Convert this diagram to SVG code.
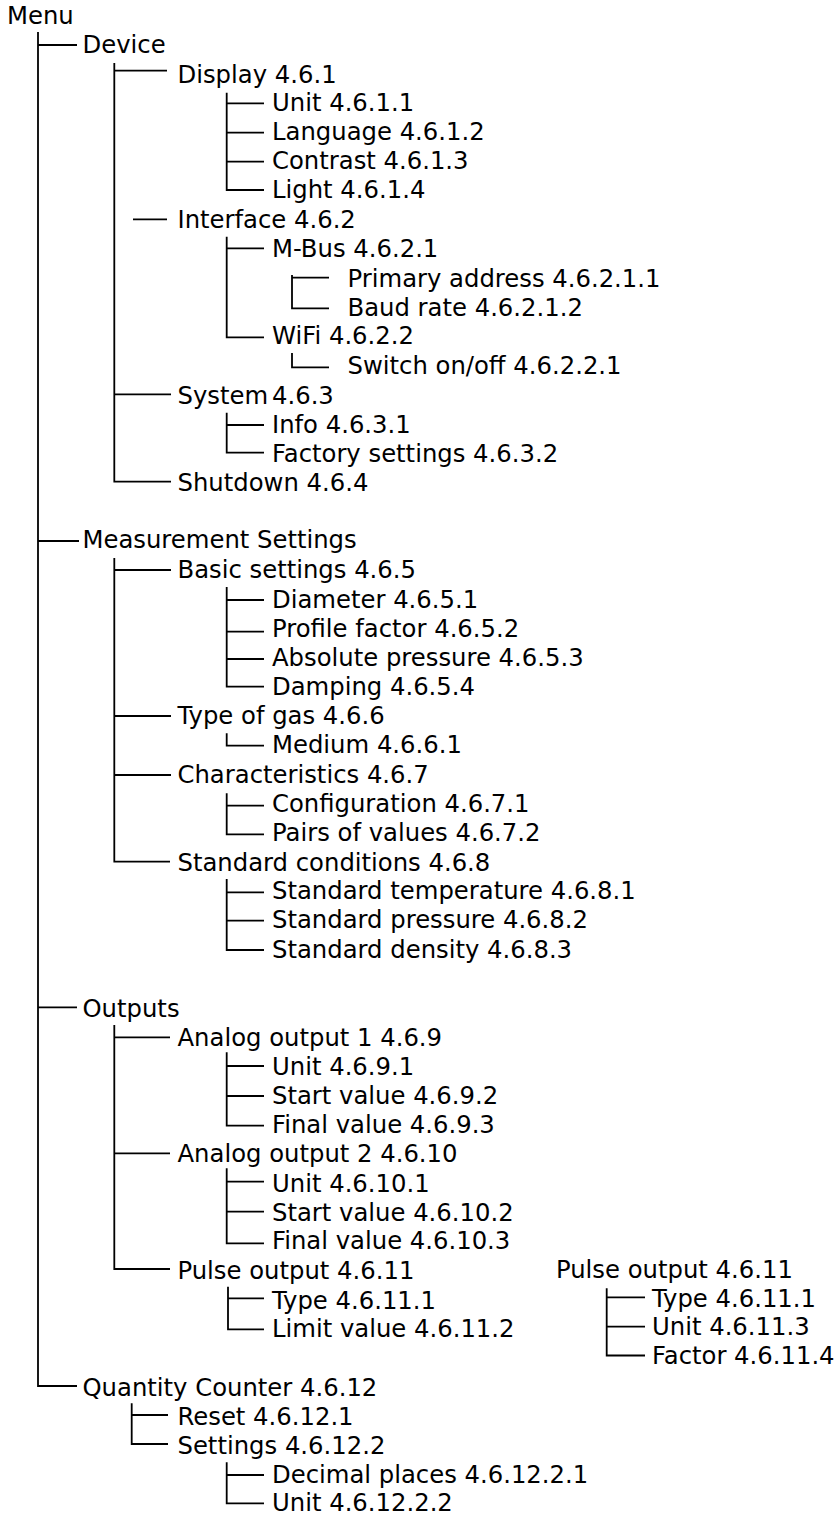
<svg xmlns="http://www.w3.org/2000/svg" width="838" height="1515" viewBox="0 0 838 1515">
<style>
text{font-family:Verdana,"DejaVu Sans",sans-serif;font-size:24.3px;fill:#000}
.c path,.c line{stroke:#000;stroke-width:1.8;fill:none}
</style>
<rect width="838" height="1515" fill="#fff"/>
<g class="c" id="connectors">
<path d="M38 32V1386H77"/>
<line x1="38" y1="45" x2="77" y2="45"/>
<line x1="38" y1="541" x2="79" y2="541"/>
<line x1="38" y1="1007.3" x2="77" y2="1007.3"/>
<path d="M114.3 63V481.7H171"/>
<line x1="114.3" y1="70.7" x2="167" y2="70.7"/>
<line x1="133" y1="219.3" x2="167" y2="219.3"/>
<line x1="114.3" y1="394.3" x2="171" y2="394.3"/>
<path d="M226.7 92.7V190H264"/>
<line x1="226.7" y1="103.3" x2="264" y2="103.3"/>
<line x1="226.7" y1="132.7" x2="264" y2="132.7"/>
<line x1="226.7" y1="161.7" x2="264" y2="161.7"/>
<path d="M226.7 236.7V337.3H264"/>
<line x1="226.7" y1="248.3" x2="264" y2="248.3"/>
<path d="M292 275V308.3H329"/>
<line x1="292" y1="277.7" x2="329" y2="277.7"/>
<path d="M292 353V367.3H329"/>
<path d="M226.7 412.7V452.7H264"/>
<line x1="226.7" y1="425" x2="264" y2="425"/>
<path d="M114.3 558V861.7H170"/>
<line x1="114.3" y1="570" x2="171" y2="570"/>
<line x1="114.3" y1="716" x2="171" y2="716"/>
<line x1="114.3" y1="775" x2="171" y2="775"/>
<path d="M226.7 587V686.7H264"/>
<line x1="226.7" y1="600" x2="264" y2="600"/>
<line x1="226.7" y1="631.7" x2="264" y2="631.7"/>
<line x1="226.7" y1="659" x2="264" y2="659"/>
<path d="M226.7 733.3V745.7H264"/>
<path d="M226.7 793.3V834.3H264"/>
<line x1="226.7" y1="805.7" x2="264" y2="805.7"/>
<path d="M226.7 879V950H264"/>
<line x1="226.7" y1="892.3" x2="264" y2="892.3"/>
<line x1="226.7" y1="920.7" x2="264" y2="920.7"/>
<path d="M114.3 1025V1269H170"/>
<line x1="114.3" y1="1037.3" x2="170" y2="1037.3"/>
<line x1="114.3" y1="1153.3" x2="170" y2="1153.3"/>
<path d="M226.7 1052.3V1125.7H264"/>
<line x1="226.7" y1="1066" x2="264" y2="1066"/>
<line x1="226.7" y1="1096" x2="264" y2="1096"/>
<path d="M226.7 1168.3V1243.3H264"/>
<line x1="226.7" y1="1181.7" x2="264" y2="1181.7"/>
<line x1="226.7" y1="1211.7" x2="264" y2="1211.7"/>
<path d="M228 1286.7V1329.3H264"/>
<line x1="228" y1="1298.3" x2="264" y2="1298.3"/>
<path d="M131.7 1403.3V1444H168"/>
<line x1="131.7" y1="1415" x2="168" y2="1415"/>
<path d="M226.7 1462.3V1503.3H264"/>
<line x1="226.7" y1="1475" x2="264" y2="1475"/>
<path d="M606.7 1288.3V1355.5H645"/>
<line x1="606.7" y1="1297.3" x2="645" y2="1297.3"/>
<line x1="606.7" y1="1326.7" x2="645" y2="1326.7"/>
</g>
<g id="n-menu"><text x="7" y="24">Menu</text></g>
<g id="n-device"><text x="82.5" y="53.3">Device</text></g>
<g id="n-display"><text x="177.5" y="82.7">Display 4.6.1</text></g>
<g id="n-unit-1"><text x="272" y="111">Unit 4.6.1.1</text></g>
<g id="n-language"><text x="272" y="140">Language 4.6.1.2</text></g>
<g id="n-contrast"><text x="272" y="169.3">Contrast 4.6.1.3</text></g>
<g id="n-light"><text x="272" y="197.7">Light 4.6.1.4</text></g>
<g id="n-interface"><text x="177.5" y="228.3">Interface 4.6.2</text></g>
<g id="n-mbus"><text x="272" y="256.7">M-Bus 4.6.2.1</text></g>
<g id="n-primary"><text x="347.5" y="286.7">Primary address 4.6.2.1.1</text></g>
<g id="n-baud"><text x="347.5" y="316">Baud rate 4.6.2.1.2</text></g>
<g id="n-wifi"><text x="272" y="344.3">WiFi 4.6.2.2</text></g>
<g id="n-switch"><text x="347.5" y="374.3">Switch on/off 4.6.2.2.1</text></g>
<g id="n-system"><text x="177.5" y="404">System<tspan x="272">4.6.3</tspan></text></g>
<g id="n-info"><text x="272" y="432.7">Info 4.6.3.1</text></g>
<g id="n-factory"><text x="272" y="461.7">Factory settings 4.6.3.2</text></g>
<g id="n-shutdown"><text x="177.5" y="490.7">Shutdown 4.6.4</text></g>
<g id="n-measurement"><text x="82.5" y="548.3">Measurement Settings</text></g>
<g id="n-basic"><text x="177.5" y="578.3">Basic settings 4.6.5</text></g>
<g id="n-diameter"><text x="272" y="608.3">Diameter 4.6.5.1</text></g>
<g id="n-profile"><text x="272" y="637.3">Profile factor 4.6.5.2</text></g>
<g id="n-absolute"><text x="272" y="666">Absolute pressure 4.6.5.3</text></g>
<g id="n-damping"><text x="272" y="695">Damping 4.6.5.4</text></g>
<g id="n-gas"><text x="177.5" y="724">Type of gas 4.6.6</text></g>
<g id="n-medium"><text x="272" y="753.3">Medium 4.6.6.1</text></g>
<g id="n-char"><text x="177.5" y="782.7">Characteristics 4.6.7</text></g>
<g id="n-config"><text x="272" y="811.7">Configuration 4.6.7.1</text></g>
<g id="n-pairs"><text x="272" y="840.7">Pairs of values 4.6.7.2</text></g>
<g id="n-stdcond"><text x="177.5" y="870.7">Standard conditions 4.6.8</text></g>
<g id="n-stdtemp"><text x="272" y="899.3">Standard temperature 4.6.8.1</text></g>
<g id="n-stdpress"><text x="272" y="928.3">Standard pressure 4.6.8.2</text></g>
<g id="n-stddens"><text x="272" y="957.7">Standard density 4.6.8.3</text></g>
<g id="n-outputs"><text x="82.5" y="1016.7">Outputs</text></g>
<g id="n-ao1"><text x="177.5" y="1046">Analog output 1 4.6.9</text></g>
<g id="n-ao1-unit"><text x="272" y="1075">Unit 4.6.9.1</text></g>
<g id="n-ao1-start"><text x="272" y="1104.3">Start value 4.6.9.2</text></g>
<g id="n-ao1-final"><text x="272" y="1133.3">Final value 4.6.9.3</text></g>
<g id="n-ao2"><text x="177.5" y="1162.3">Analog output 2 4.6.10</text></g>
<g id="n-ao2-unit"><text x="272" y="1191.7">Unit 4.6.10.1</text></g>
<g id="n-ao2-start"><text x="272" y="1220.7">Start value 4.6.10.2</text></g>
<g id="n-ao2-final"><text x="272" y="1249.3">Final value 4.6.10.3</text></g>
<g id="n-pulse"><text x="177.5" y="1279.3">Pulse output 4.6.11</text></g>
<g id="n-pulse-type"><text x="272" y="1309">Type 4.6.11.1</text></g>
<g id="n-pulse-limit"><text x="272" y="1337.3">Limit value 4.6.11.2</text></g>
<g id="n-pulse2"><text x="556" y="1278.3">Pulse output 4.6.11</text></g>
<g id="n-pulse2-type"><text x="652" y="1306.7">Type 4.6.11.1</text></g>
<g id="n-pulse2-unit"><text x="652" y="1335">Unit 4.6.11.3</text></g>
<g id="n-pulse2-factor"><text x="652" y="1363.5">Factor 4.6.11.4</text></g>
<g id="n-qc"><text x="82.5" y="1396">Quantity Counter 4.6.12</text></g>
<g id="n-reset"><text x="177.5" y="1425">Reset 4.6.12.1</text></g>
<g id="n-settings"><text x="177.5" y="1454">Settings 4.6.12.2</text></g>
<g id="n-decimal"><text x="272" y="1482.7">Decimal places 4.6.12.2.1</text></g>
<g id="n-qc-unit"><text x="272" y="1510.7">Unit 4.6.12.2.2</text></g>
</svg>
